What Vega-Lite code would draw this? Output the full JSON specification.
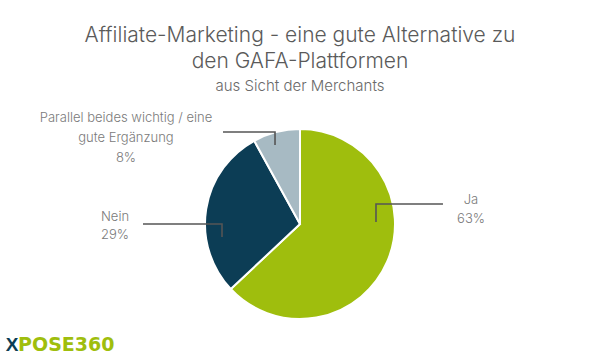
{
  "$schema": "https://vega.github.io/schema/vega-lite/v6.json",
  "width": 600,
  "height": 264,
  "autosize": {"type": "none"},
  "padding": {"top": 92, "left": 0, "right": 0, "bottom": 0},
  "background": "white",
  "title": {
    "text": ["Affiliate-Marketing - eine gute Alternative zu", "den GAFA-Plattformen"],
    "subtitle": "aus Sicht der Merchants",
    "anchor": "middle",
    "frame": "group",
    "font": "Inter",
    "fontWeight": 300,
    "fontSize": 21,
    "lineHeight": 26,
    "color": "#5a5a5a",
    "subtitleFont": "Inter",
    "subtitleFontWeight": 300,
    "subtitleFontSize": 15,
    "subtitleColor": "#6a6a6a",
    "subtitlePadding": 7,
    "offset": -2
  },
  "datasets": {
    "answers": [
      {"answer": "Ja", "pct": 63, "ord": 1},
      {"answer": "Nein", "pct": 29, "ord": 2},
      {"answer": "Parallel beides wichtig / eine gute Ergänzung", "pct": 8, "ord": 3}
    ],
    "labels": [
      {"t": "Ja", "u": 1.8, "v": 0.2105},
      {"t": "63%", "u": 1.8, "v": 0.0105},
      {"t": "Nein", "u": -1.947, "v": 0.035},
      {"t": "29%", "u": -1.947, "v": -0.158},
      {"t": "Parallel beides wichtig / eine", "u": -1.832, "v": 1.077},
      {"t": "gute Ergänzung", "u": -1.832, "v": 0.866},
      {"t": "8%", "u": -1.832, "v": 0.653}
    ],
    "leaders": [
      {"seg": "Ja", "p": 1, "u": 0.8, "v": 0.021},
      {"seg": "Ja", "p": 2, "u": 0.8, "v": 0.2105},
      {"seg": "Ja", "p": 3, "u": 1.505, "v": 0.2105},
      {"seg": "Nein", "p": 1, "u": -0.821, "v": -0.137},
      {"seg": "Nein", "p": 2, "u": -0.821, "v": 0},
      {"seg": "Nein", "p": 3, "u": -1.653, "v": 0},
      {"seg": "Parallel", "p": 1, "u": -0.263, "v": 0.832},
      {"seg": "Parallel", "p": 2, "u": -0.263, "v": 0.968},
      {"seg": "Parallel", "p": 3, "u": -0.811, "v": 0.968}
    ],
    "logoX": [{"t": "X", "u": -3.032, "v": -1.337}],
    "logoRest": [{"t": "POSE360", "u": -2.968, "v": -1.337}]
  },
  "layer": [
    {
      "data": {"name": "answers"},
      "mark": {"type": "arc", "outerRadius": 95, "stroke": "white", "strokeWidth": 2},
      "encoding": {
        "theta": {"field": "pct", "type": "quantitative", "stack": true},
        "order": {"field": "ord", "type": "quantitative"},
        "color": {
          "field": "answer",
          "type": "nominal",
          "scale": {
            "domain": ["Ja", "Nein", "Parallel beides wichtig / eine gute Ergänzung"],
            "range": ["#9fbe0d", "#0c3d55", "#a7bac3"]
          },
          "legend": null
        }
      }
    },
    {
      "data": {"name": "leaders"},
      "mark": {"type": "line", "color": "#555555", "strokeWidth": 1.6},
      "encoding": {
        "x": {"field": "u", "type": "quantitative", "scale": {"domain": [-3.158, 3.158], "nice": false, "zero": false}, "axis": null},
        "y": {"field": "v", "type": "quantitative", "scale": {"domain": [-1.3895, 1.3895], "nice": false, "zero": false}, "axis": null},
        "detail": {"field": "seg"},
        "order": {"field": "p", "type": "quantitative"}
      }
    },
    {
      "data": {"name": "labels"},
      "mark": {"type": "text", "font": "Inter", "fontWeight": 300, "fontSize": 13, "color": "#7a7a7a", "align": "center", "baseline": "alphabetic"},
      "encoding": {
        "x": {"field": "u", "type": "quantitative", "scale": {"domain": [-3.158, 3.158], "nice": false, "zero": false}, "axis": null},
        "y": {"field": "v", "type": "quantitative", "scale": {"domain": [-1.3895, 1.3895], "nice": false, "zero": false}, "axis": null},
        "text": {"field": "t"}
      }
    },
    {
      "data": {"name": "logoX"},
      "mark": {"type": "text", "font": "Liberation Sans", "fontWeight": "bold", "fontSize": 19, "color": "#0c3d55", "align": "center", "baseline": "alphabetic"},
      "encoding": {
        "x": {"field": "u", "type": "quantitative", "scale": {"domain": [-3.158, 3.158], "nice": false, "zero": false}, "axis": null},
        "y": {"field": "v", "type": "quantitative", "scale": {"domain": [-1.3895, 1.3895], "nice": false, "zero": false}, "axis": null},
        "text": {"field": "t"}
      }
    },
    {
      "data": {"name": "logoRest"},
      "mark": {"type": "text", "font": "DejaVu Sans", "fontWeight": "bold", "fontSize": 19, "color": "#9fbe0d", "align": "left", "baseline": "alphabetic"},
      "encoding": {
        "x": {"field": "u", "type": "quantitative", "scale": {"domain": [-3.158, 3.158], "nice": false, "zero": false}, "axis": null},
        "y": {"field": "v", "type": "quantitative", "scale": {"domain": [-1.3895, 1.3895], "nice": false, "zero": false}, "axis": null},
        "text": {"field": "t"}
      }
    }
  ],
  "config": {"view": {"stroke": null}}
}
